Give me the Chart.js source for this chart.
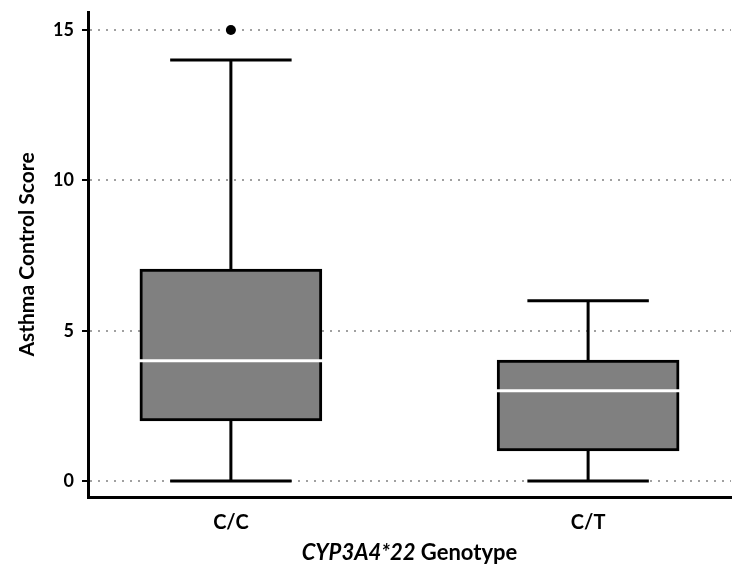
<!DOCTYPE html>
<html>
<head>
<meta charset="utf-8">
<script src="https://cdn.jsdelivr.net/npm/chart.js@4/dist/chart.umd.min.js"></script>
<style>
html,body{margin:0;padding:0;background:#fff;}
#wrap{width:736px;height:572px;}
</style>
</head>
<body>
<div id="wrap"><canvas id="c" width="736" height="572"></canvas></div>
<script>
// ---- data ----
const categories = ['C/C', 'C/T'];
const positions = [1, 2];
const mins = [0, 0];
const q1s = [2, 1];
const medians = [4, 3];
const q3s = [7.05, 4.02];
const maxs = [14, 6];
const outliers = [[15], []];
const yTicks = [0, 5, 10, 15];
const xTitleItalic = 'CYP3A4*22';
const xTitleRest = ' Genotype';
const yTitle = 'Asthma Control Score';

// ---- styles ----
const FONT = 'Lato, "Open Sans", sans-serif';
const CAP_HALF = 0.17;
const BOX_PX = 182;

const boxData = positions.map((p, i) => ({x: p, y: [q1s[i], q3s[i]]}));
const outlierData = [];
outliers.forEach((arr, i) => arr.forEach(v => outlierData.push({x: positions[i], y: v})));

const boxPlugin = {
  id: 'boxExtras',
  beforeDatasetsDraw(chart) {
    const ctx = chart.ctx, xs = chart.scales.x, ys = chart.scales.y;
    ctx.save();
    ctx.strokeStyle = '#000';
    ctx.lineWidth = 3;
    ctx.lineCap = 'butt';
    positions.forEach((p, i) => {
      const cx = xs.getPixelForValue(p);
      ctx.beginPath();
      ctx.moveTo(cx, ys.getPixelForValue(q3s[i]));
      ctx.lineTo(cx, ys.getPixelForValue(maxs[i]));
      ctx.moveTo(cx, ys.getPixelForValue(q1s[i]));
      ctx.lineTo(cx, ys.getPixelForValue(mins[i]));
      ctx.stroke();
      const l = xs.getPixelForValue(p - CAP_HALF), r = xs.getPixelForValue(p + CAP_HALF);
      ctx.beginPath();
      ctx.moveTo(l, ys.getPixelForValue(maxs[i]));
      ctx.lineTo(r, ys.getPixelForValue(maxs[i]));
      ctx.moveTo(l, ys.getPixelForValue(mins[i]));
      ctx.lineTo(r, ys.getPixelForValue(mins[i]));
      ctx.stroke();
    });
    ctx.restore();
  },
  afterDatasetsDraw(chart) {
    const ctx = chart.ctx, xs = chart.scales.x, ys = chart.scales.y;
    ctx.save();
    ctx.strokeStyle = '#fff';
    ctx.lineWidth = 3;
    positions.forEach((p, i) => {
      const cx = xs.getPixelForValue(p);
      const y = ys.getPixelForValue(medians[i]);
      ctx.beginPath();
      ctx.moveTo(cx - BOX_PX / 2 - 1, y);
      ctx.lineTo(cx + BOX_PX / 2 + 1, y);
      ctx.stroke();
    });
    ctx.restore();
  },
  afterDraw(chart) {
    const ctx = chart.ctx, a = chart.chartArea;
    ctx.save();
    ctx.fillStyle = '#000';
    ctx.textBaseline = 'middle';
    const fI = 'italic bold 22px ' + FONT, fR = 'bold 22px ' + FONT;
    ctx.font = fI; const w1 = ctx.measureText(xTitleItalic).width;
    ctx.font = fR; const w2 = ctx.measureText(xTitleRest).width;
    const start = (a.left + a.right) / 2 - (w1 + w2) / 2;
    const y = 553;
    ctx.textAlign = 'left';
    ctx.font = fI; ctx.fillText(xTitleItalic, start, y);
    ctx.font = fR; ctx.fillText(xTitleRest, start + w1, y);
    ctx.restore();
  }
};

new Chart(document.getElementById('c'), {
  type: 'bar',
  data: {
    datasets: [
      {
        type: 'bar',
        data: boxData,
        backgroundColor: '#808080',
        borderColor: '#000',
        borderWidth: 3,
        borderSkipped: false,
        barThickness: BOX_PX,
        order: 2
      },
      {
        type: 'scatter',
        data: outlierData,
        pointRadius: 5,
        pointBackgroundColor: '#000',
        pointBorderColor: '#000',
        pointBorderWidth: 0,
        order: 1
      }
    ]
  },
  plugins: [boxPlugin],
  options: {
    responsive: false,
    animation: false,
    layout: {padding: {top: 12, right: -5, bottom: 0, left: 0}},
    plugins: {legend: {display: false}, tooltip: {enabled: false}},
    scales: {
      x: {
        type: 'linear',
        offset: false,
        min: 0.6,
        max: 2.4,
        afterBuildTicks(s) { s.ticks = positions.map(v => ({value: v})); },
        afterFit(s) { s.height = 75; s.paddingLeft = 0; s.paddingRight = 0; },
        ticks: {
          callback: (v) => { const i = positions.indexOf(v); return i >= 0 ? categories[i] : ''; },
          color: '#000',
          font: {family: FONT, size: 20, weight: 'bold'},
          padding: 14,
          maxRotation: 0,
          autoSkip: false
        },
        grid: {display: false, drawTicks: false},
        border: {display: true, color: '#000', width: 3}
      },
      y: {
        type: 'linear',
        min: -0.53,
        max: 15.6,
        afterBuildTicks(s) { s.ticks = yTicks.map(v => ({value: v})); },
        afterFit(s) { s.width = 88; s.paddingTop = 0; s.paddingBottom = 0; },
        ticks: {
          color: '#000',
          font: {family: FONT, size: 18, weight: 'bold'},
          padding: 8
        },
        grid: {
          color: '#a0a0a0',
          lineWidth: 2,
          tickLength: 6,
          tickColor: '#000',
          tickWidth: 2,
          tickBorderDash: []
        },
        border: {display: true, color: '#000', width: 3, dash: [2, 6]},
        title: {
          display: true,
          text: yTitle,
          color: '#000',
          font: {family: FONT, size: 21, weight: 'bold'},
          padding: {top: 15, bottom: 0}
        }
      }
    }
  }
});
</script>
</body>
</html>
